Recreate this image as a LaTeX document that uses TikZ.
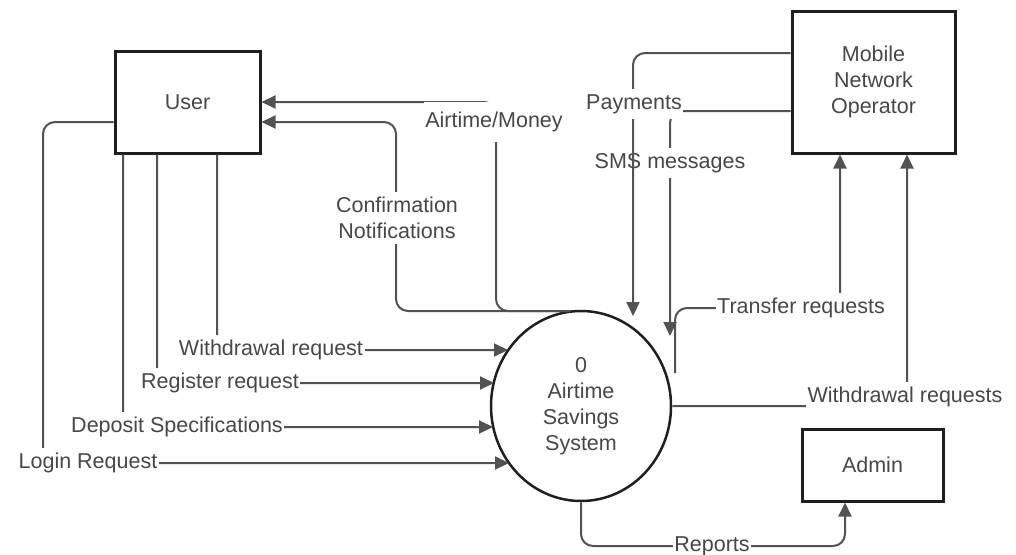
\documentclass[tikz,border=0pt]{standalone}
\usepackage{fontspec}
\setmainfont{Liberation Sans}
\usetikzlibrary{arrows.meta,shapes.geometric}
\begin{document}
\begin{tikzpicture}[x=1pt,y=-1pt,
  every node/.style={font=\fontsize{21.5}{26}\selectfont},
  entity/.style={draw=black!88, line width=3pt, fill=white, inner sep=0pt, align=center, text=black!72},
  proc/.style={ellipse, draw=black!88, line width=2.5pt, fill=white, minimum width=180pt, minimum height=190pt, inner sep=0pt, align=center, text=black!72},
  flow/.style={draw=black!68, line width=2pt, rounded corners=12pt, -{Triangle[length=14pt,width=13pt]}},
  lbl/.style={fill=white, text=black!72, inner xsep=1.5pt, inner ysep=5pt, align=center}]
\fill[white] (0,0) rectangle (1016,554);
\useasboundingbox (0,0) rectangle (1016,554);

% entities and process
\node[entity, minimum width=145pt, minimum height=102pt] (user) at (187.5,102) {User};
\node[entity, minimum width=163pt, minimum height=142pt] (mno) at (873.5,82) {Mobile\\Network\\Operator};
\node[entity, minimum width=141pt, minimum height=72pt] (admin) at (872.5,465) {Admin};
\node[proc] (sys) at (581,406) {0\\Airtime\\Savings\\System};
\coordinate (sysN) at (570,311);
\coordinate (sysNE) at (675,373);

% flows back to user
\draw[flow] (sysN) -- (496,311) -- (496,102) -- (user.east |- 0,102);
\draw[flow] (sysN) -- (396,311) -- (396,122) -- (user.east |- 0,122);
\node[lbl, inner ysep=10pt] (lAM) at (494,122) {Airtime/Money};
\node[lbl] (lCN) at (397,218) {Confirmation\\Notifications};

% flows from user
\draw[flow] (user.south -| 217,0) |- (508,350);
\draw[flow] (user.south -| 157,0) |- (494,383);
\draw[flow] (user.south -| 123,0) |- (493,427);
\draw[flow] (user.west |- 0,122) -| (43,463) -- (509,463);
\node[lbl] (lWR) at (271,350) {Withdrawal request};
\node[lbl] (lRR) at (220,383) {Register request};
\node[lbl] (lDS) at (177,427) {Deposit Specifications};
\node[lbl] (lLR) at (88,463) {Login Request};

% flows from MNO
\draw[flow] (mno.west |- 0,111) -- (670,111) -- (670,336);
\node[lbl] (lSMS) at (670,163) {SMS messages};
\draw[flow] (mno.west |- 0,53) -- (633,53) -- (633,316);
\node[lbl] (lPay) at (634,104) {Payments};

% flows to MNO
\draw[flow] (sysNE) -- (675,308) -- (840,308) -- (mno.south -| 840,0);
\node[lbl] (lTR) at (801,308) {Transfer requests};
\draw[flow] (sys.east) -| (mno.south -| 907,0);
\node[lbl] (lWRs) at (905,397) {Withdrawal requests};

% reports to admin
\draw[flow] (sys.south) |- (845,546) -- (admin.south -| 845,0);
\node[lbl] (lRep) at (712,546) {Reports};
\end{tikzpicture}
\end{document}
